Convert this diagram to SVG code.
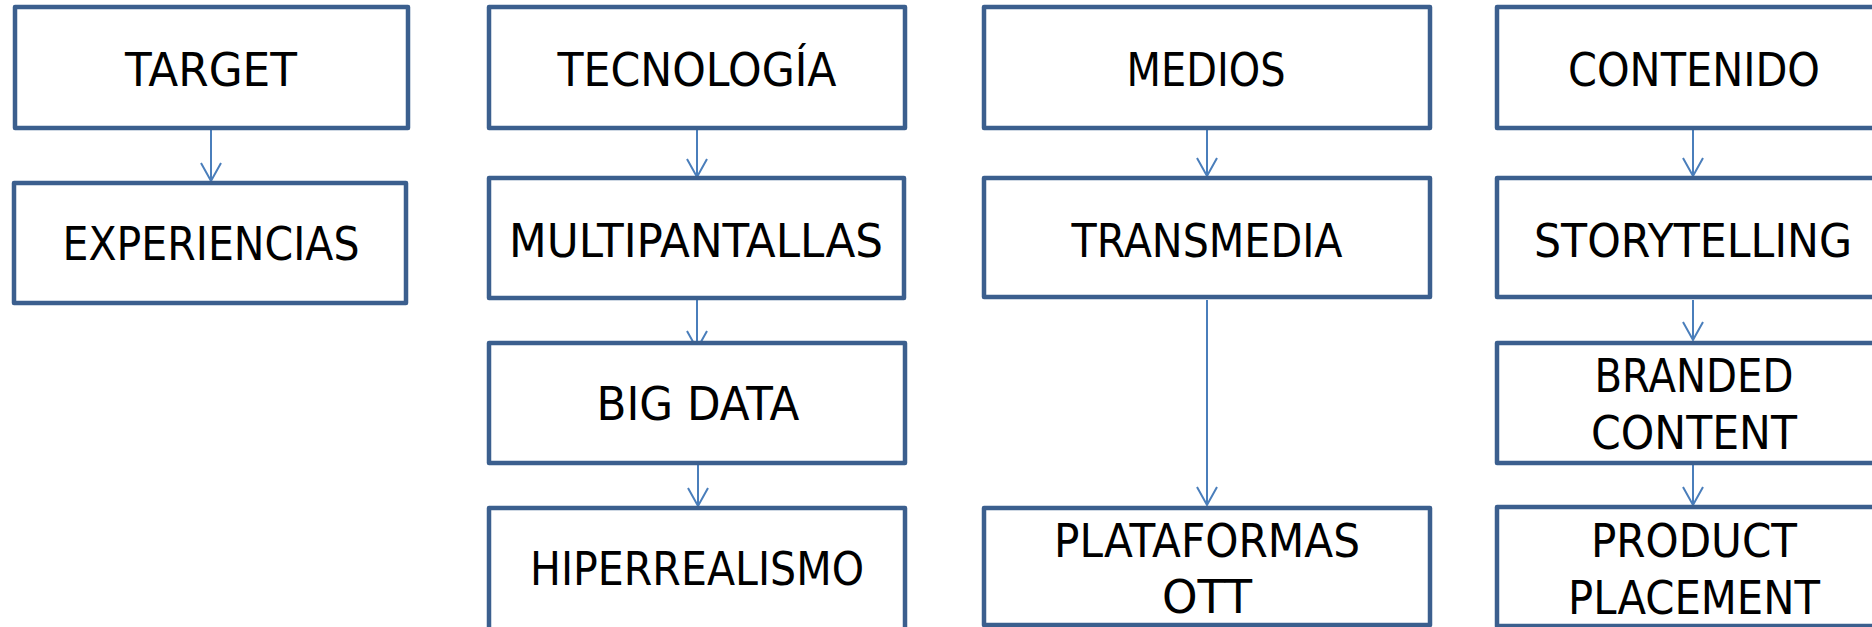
<svg xmlns="http://www.w3.org/2000/svg" width="1872" height="627" viewBox="0 0 1872 627">
<style>
.box{fill:#ffffff;stroke:#3b5f8e;stroke-width:4.5;stroke-linejoin:round}
.t{font-family:"DejaVu Sans","Noto Sans",sans-serif;font-size:46.5px;fill:#000000;text-anchor:middle}
.c{stroke:#4a7ebb;stroke-width:2;fill:none}
</style>
<defs>
<marker id="arr" markerUnits="userSpaceOnUse" markerWidth="26" markerHeight="26" viewBox="-22 -13 26 26" refX="0" refY="0" orient="auto">
<path d="M-18,-10 L0,0 L-18,10" fill="none" stroke="#4a7ebb" stroke-width="2"/>
</marker>
</defs>
<rect width="1872" height="627" fill="#ffffff"/>
<g id="connectors">
<line class="c" x1="211" y1="130" x2="211" y2="181" marker-end="url(#arr)"/>
<line class="c" x1="697" y1="130" x2="697" y2="177" marker-end="url(#arr)"/>
<line class="c" x1="1207" y1="130" x2="1207" y2="176" marker-end="url(#arr)"/>
<line class="c" x1="1693" y1="130" x2="1693" y2="176" marker-end="url(#arr)"/>
<line class="c" x1="697" y1="300" x2="697" y2="349" marker-end="url(#arr)"/>
<line class="c" x1="698" y1="453" x2="698" y2="506" marker-end="url(#arr)"/>
<line class="c" x1="1207" y1="300" x2="1207" y2="505" marker-end="url(#arr)"/>
<line class="c" x1="1693" y1="300" x2="1693" y2="340" marker-end="url(#arr)"/>
<line class="c" x1="1693" y1="465" x2="1693" y2="505" marker-end="url(#arr)"/>
</g>
<g id="target"><rect class="box" x="15" y="7" width="393" height="121"/><text class="t" x="211" y="86" textLength="172" lengthAdjust="spacingAndGlyphs">TARGET</text></g>
<g id="experiencias"><rect class="box" x="14" y="183" width="392" height="120"/><text class="t" x="211" y="260" textLength="297" lengthAdjust="spacingAndGlyphs">EXPERIENCIAS</text></g>
<g id="tecnologia"><rect class="box" x="489" y="7" width="416" height="121"/><text class="t" x="697" y="86" textLength="279" lengthAdjust="spacingAndGlyphs">TECNOLOGÍA</text></g>
<g id="multipantallas"><rect class="box" x="489" y="178" width="415" height="120"/><text class="t" x="696" y="257" textLength="374" lengthAdjust="spacingAndGlyphs">MULTIPANTALLAS</text></g>
<g id="bigdata"><rect class="box" x="489" y="343" width="416" height="120"/><text class="t" x="698" y="420" textLength="203" lengthAdjust="spacingAndGlyphs">BIG DATA</text></g>
<g id="hiperrealismo"><rect class="box" x="489" y="508" width="416" height="125"/><text class="t" x="697" y="585" textLength="334" lengthAdjust="spacingAndGlyphs">HIPERREALISMO</text></g>
<g id="medios"><rect class="box" x="984" y="7" width="446" height="121"/><text class="t" x="1206" y="86" textLength="159" lengthAdjust="spacingAndGlyphs">MEDIOS</text></g>
<g id="transmedia"><rect class="box" x="984" y="178" width="446" height="119"/><text class="t" x="1207" y="257" textLength="271" lengthAdjust="spacingAndGlyphs">TRANSMEDIA</text></g>
<g id="plataformas"><rect class="box" x="984" y="508" width="446" height="117"/><text class="t" x="1207" y="557" textLength="306" lengthAdjust="spacingAndGlyphs">PLATAFORMAS</text><text class="t" x="1207" y="613" textLength="90" lengthAdjust="spacingAndGlyphs">OTT</text></g>
<g id="contenido"><rect class="box" x="1497" y="7" width="420" height="121"/><text class="t" x="1694" y="86" textLength="252" lengthAdjust="spacingAndGlyphs">CONTENIDO</text></g>
<g id="storytelling"><rect class="box" x="1497" y="178" width="420" height="119"/><text class="t" x="1693" y="257" textLength="318" lengthAdjust="spacingAndGlyphs">STORYTELLING</text></g>
<g id="branded"><rect class="box" x="1497" y="343" width="420" height="120"/><text class="t" x="1694" y="392" textLength="199" lengthAdjust="spacingAndGlyphs">BRANDED</text><text class="t" x="1694" y="449" textLength="206" lengthAdjust="spacingAndGlyphs">CONTENT</text></g>
<g id="product"><rect class="box" x="1497" y="507" width="420" height="119"/><text class="t" x="1694" y="557" textLength="206" lengthAdjust="spacingAndGlyphs">PRODUCT</text><text class="t" x="1694" y="614" textLength="252" lengthAdjust="spacingAndGlyphs">PLACEMENT</text></g>
</svg>
